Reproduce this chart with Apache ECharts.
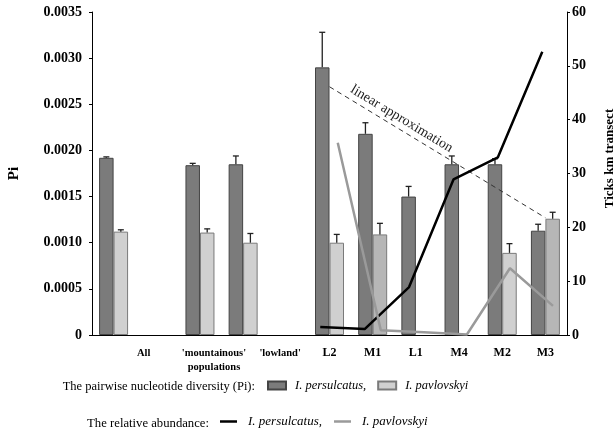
<!DOCTYPE html>
<html><head><meta charset="utf-8">
<script src="https://cdn.jsdelivr.net/npm/echarts@6/dist/echarts.min.js"></script>
<style>html,body{margin:0;padding:0;background:#fff}#c{width:615px;height:435px}</style>
</head><body><div id="c"></div>
<script>
// ---------- data ----------
const categories = ['All', '', "'mountainous'\npopulations", "'lowland'", '', 'L2', 'M1', 'L1', 'M4', 'M2', 'M3'];
const piPersulcatus    = [0.00192, null, 0.00184, 0.00185, null, 0.00290, 0.00218, 0.00150, 0.00185, 0.00185, 0.00113];
const piPersulcatusErr = [0.00001, null, 0.00002, 0.00009, null, 0.00038, 0.00012, 0.00011, 0.00009, 0.00006, 0.00007];
const piPavlovskyi     = [0.00112, null, 0.00111, 0.00100, null, 0.00100, 0.00109, null, null, 0.00089, 0.00126];
const piPavlovskyiErr  = [0.00002, null, 0.00004, 0.00010, null, 0.00009, 0.00012, null, null, 0.00010, 0.00007];
const abundPersulcatus = [null, null, null, null, null, 1.5, 1.1, 8.9, 28.9, 33.0, 52.6];
const abundPavlovskyi  = [null, null, null, null, null, 35.7, 0.9, 0.5, 0.1, 12.4, 5.4];
const linearApprox     = [null, null, null, null, null, 0.00269, null, null, null, null, 0.00127];
const piTicks = [0, 0.0005, 0.0010, 0.0015, 0.0020, 0.0025, 0.0030, 0.0035];
const abundTicks = [0, 10, 20, 30, 40, 50, 60];
const legendLabels = {pi_pers: 'I. persulcatus,', pi_pavl: 'I. pavlovskyi', ab_pers: 'I. persulcatus,', ab_pavl: 'I. pavlovskyi'};
const legendPrefix1 = 'The pairwise nucleotide diversity (Pi):';
const legendPrefix2 = 'The relative abundance:';
const approxLabel = 'linear approximation';

// ---------- chart ----------
const FONT = '"Liberation Serif", "DejaVu Serif", serif';
const BAR_W = 14.5;
const darkerPavl = new Set(['M1', 'M3']);
const chart = echarts.init(document.getElementById('c'));

function errData(vals, errs) {
  const out = [];
  vals.forEach((v, i) => { if (v != null) out.push([i, v, errs[i]]); });
  return out;
}
function errRender(offset) {
  return function (params, api) {
    const x = api.value(0), v = api.value(1), e = api.value(2);
    const p0 = api.coord([x, v]);
    const p1 = api.coord([x, v + e]);
    const cx = p0[0] + offset;
    const st = {stroke: '#222', lineWidth: 1.3};
    return {type: 'group', children: [
      {type: 'line', shape: {x1: cx, y1: p0[1], x2: cx, y2: p1[1]}, style: st},
      {type: 'line', shape: {x1: cx - 3, y1: p1[1], x2: cx + 3, y2: p1[1]}, style: st}
    ]};
  };
}

const GRID = {top: 12, bottom: 100, left: 92, right: 48, containLabel: false, outerBoundsMode: 'none'};
const hiddenX = (gi) => ({type: 'category', gridIndex: gi, data: categories, show: false});
const hiddenY = (gi) => ({type: 'value', gridIndex: gi, min: 0, max: abundTicks[abundTicks.length - 1], show: false, splitLine: {show: false}});

const option = {
  animation: false,
  textStyle: {fontFamily: FONT},
  grid: [
    Object.assign({}, GRID),
    Object.assign({}, GRID, {left: 76, right: 50.5}),
    Object.assign({}, GRID, {left: 101, right: 40.5})
  ],
  xAxis: [
    {
      type: 'category', gridIndex: 0, data: categories,
      axisLine: {lineStyle: {color: '#000', width: 1}},
      axisTick: {length: 5, lineStyle: {color: '#000'}},
      axisLabel: {
        interval: 0, margin: 11, color: '#000',
        formatter: function (v, i) {
          if (!v) return '';
          const st = i < 5 ? 'g' + i : 'b';
          return v.split('\n').map(t => '{' + st + '|' + t + '}').join('\n');
        },
        rich: {
          g0: {fontFamily: FONT, fontWeight: 'bold', fontSize: 10.5, lineHeight: 14, padding: [0, 0, 0, 60]},
          g2: {fontFamily: FONT, fontWeight: 'bold', fontSize: 10.5, lineHeight: 14, padding: [0, 0, 0, 28]},
          g3: {fontFamily: FONT, fontWeight: 'bold', fontSize: 10.5, lineHeight: 14, padding: [0, 0, 0, 74]},
          b: {fontFamily: FONT, fontWeight: 'bold', fontSize: 12, lineHeight: 14}
        }
      }
    },
    hiddenX(1), hiddenX(2)
  ],
  yAxis: [
    {
      type: 'value', gridIndex: 0, position: 'left',
      min: piTicks[0], max: piTicks[piTicks.length - 1], interval: piTicks[1] - piTicks[0],
      name: 'Pi', nameLocation: 'middle', nameGap: 70, nameRotate: 90,
      nameTextStyle: {fontFamily: FONT, fontWeight: 'bold', fontSize: 15, color: '#000'},
      axisLine: {show: true, lineStyle: {color: '#000', width: 1}},
      axisTick: {show: true, length: 3, lineStyle: {color: '#000'}},
      splitLine: {show: false},
      axisLabel: {
        margin: 10, color: '#000', fontFamily: FONT, fontWeight: 'bold', fontSize: 14,
        formatter: v => (Math.abs(v) < 1e-12 ? '0' : v.toFixed(4))
      }
    },
    {
      type: 'value', gridIndex: 0, position: 'right',
      min: abundTicks[0], max: abundTicks[abundTicks.length - 1], interval: abundTicks[1] - abundTicks[0],
      name: 'Ticks km transect', nameLocation: 'middle', nameGap: 36, nameRotate: 90,
      nameTextStyle: {fontFamily: FONT, fontWeight: 'bold', fontSize: 13, color: '#000', padding: [0, 0, 0, 30]},
      axisLine: {show: true, lineStyle: {color: '#000', width: 1}},
      axisTick: {show: true, length: 3, lineStyle: {color: '#000'}},
      splitLine: {show: false},
      axisLabel: {margin: 5, color: '#000', fontFamily: FONT, fontWeight: 'bold', fontSize: 14}
    },
    hiddenY(1), hiddenY(2)
  ],
  legend: [
    {
      data: [{name: 'pi_pers', icon: 'rect'}, {name: 'pi_pavl', icon: 'rect'}], left: 267, top: 379, padding: 0, orient: 'horizontal',
      itemWidth: 18, itemHeight: 8, itemGap: 11, selectedMode: false,
      formatter: n => legendLabels[n],
      textStyle: {fontFamily: FONT, fontStyle: 'italic', fontSize: 12.5, color: '#000', padding: [0, 0, 0, 4]}
    },
    {
      data: [{name: 'ab_pers', icon: 'rect'}, {name: 'ab_pavl', icon: 'rect'}], left: 220, top: 415, padding: 0, orient: 'horizontal',
      itemWidth: 17, itemHeight: 2.5, itemGap: 12, selectedMode: false,
      formatter: n => legendLabels[n],
      textStyle: {fontFamily: FONT, fontStyle: 'italic', fontSize: 13, color: '#000', padding: [0, 0, 0, 6]}
    }
  ],
  series: [
    {
      name: 'pi_pers', type: 'bar', xAxisIndex: 0, yAxisIndex: 0, data: piPersulcatus,
      barWidth: BAR_W, barGap: '0%', z: 2,
      itemStyle: {color: '#7b7b7b', borderColor: '#444', borderWidth: 1}
    },
    {
      name: 'pi_pavl', type: 'bar', xAxisIndex: 0, yAxisIndex: 0,
      data: piPavlovskyi.map((v, i) => v == null ? null :
        (darkerPavl.has(categories[i]) ? {value: v, itemStyle: {color: '#b6b6b6'}} : v)),
      barWidth: BAR_W, barGap: '0%', z: 2,
      itemStyle: {color: '#d0d0d0', borderColor: '#7a7a7a', borderWidth: 1}
    },
    {
      type: 'custom', xAxisIndex: 0, yAxisIndex: 0, silent: true, z: 3,
      data: errData(piPersulcatus, piPersulcatusErr), encode: {x: 0, y: 1},
      renderItem: errRender(-BAR_W / 2)
    },
    {
      type: 'custom', xAxisIndex: 0, yAxisIndex: 0, silent: true, z: 3,
      data: errData(piPavlovskyi, piPavlovskyiErr), encode: {x: 0, y: 1},
      renderItem: errRender(BAR_W / 2)
    },
    {
      name: 'approx', type: 'line', xAxisIndex: 0, yAxisIndex: 0, data: linearApprox,
      connectNulls: true, symbol: 'none', z: 4, silent: true,
      lineStyle: {color: '#333', width: 1, type: [5, 4]}
    },
    {
      name: 'ab_pers', type: 'line', xAxisIndex: 1, yAxisIndex: 2, data: abundPersulcatus,
      symbol: 'none', z: 5, itemStyle: {color: '#000'},
      lineStyle: {color: '#000', width: 2.5}
    },
    {
      name: 'ab_pavl', type: 'line', xAxisIndex: 2, yAxisIndex: 3, data: abundPavlovskyi,
      symbol: 'none', z: 5, itemStyle: {color: '#9a9a9a'},
      lineStyle: {color: '#9a9a9a', width: 2.5}
    }
  ]
};
chart.setOption(option);

// legend prefixes and rotated label for the linear approximation
const ia = linearApprox.findIndex(v => v != null);
const ib = linearApprox.length - 1 - [...linearApprox].reverse().findIndex(v => v != null);
const pA = chart.convertToPixel({gridIndex: 0}, [ia, linearApprox[ia]]);
const pB = chart.convertToPixel({gridIndex: 0}, [ib, linearApprox[ib]]);
const theta = Math.atan2(pB[1] - pA[1], pB[0] - pA[0]);
const t = 0.31, off = 10;
const lx = pA[0] + t * (pB[0] - pA[0]) + off * Math.sin(theta);
const ly = pA[1] + t * (pB[1] - pA[1]) - off * Math.cos(theta);

chart.setOption({
  graphic: [
    {type: 'text', x: 255, y: 386.5, style: {text: legendPrefix1, font: '12.5px ' + FONT, fill: '#000', align: 'right', verticalAlign: 'middle', textAlign: 'right', textVerticalAlign: 'middle'}},
    {type: 'text', x: 209, y: 423.5, style: {text: legendPrefix2, font: '12.7px ' + FONT, fill: '#000', align: 'right', verticalAlign: 'middle', textAlign: 'right', textVerticalAlign: 'middle'}},
    {type: 'text', x: lx, y: ly, rotation: -theta, style: {text: approxLabel, font: '14px ' + FONT, fill: '#222', align: 'center', verticalAlign: 'middle', textAlign: 'center', textVerticalAlign: 'middle'}}
  ]
});
</script>
</body></html>
